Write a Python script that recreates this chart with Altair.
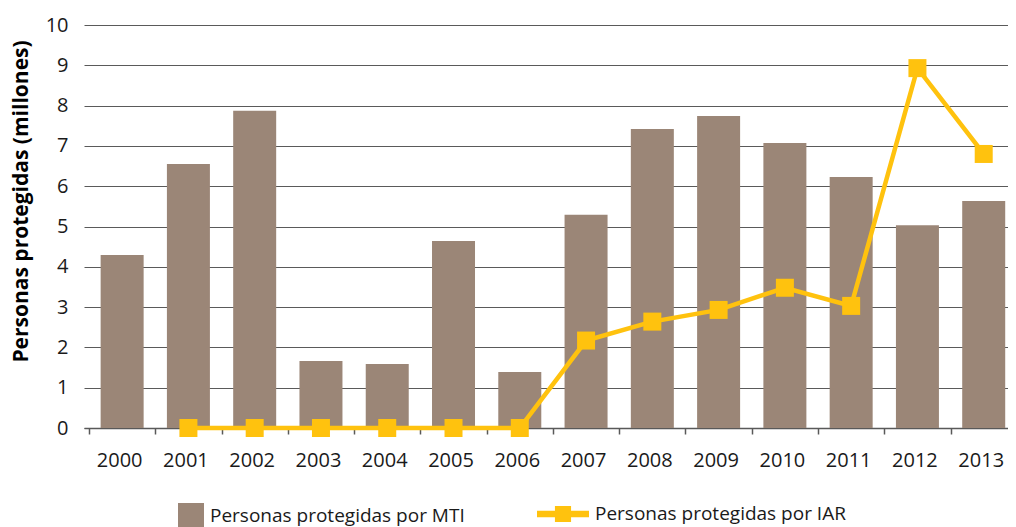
import altair as alt
import pandas as pd

years = list(range(2000, 2014))
mti = [4.29, 6.55, 7.87, 1.66, 1.59, 4.64, 1.39, 5.29, 7.42, 7.74, 7.07, 6.23, 5.03, 5.63]
iar = [None, 0, 0, 0, 0, 0, 0, 2.17, 2.64, 2.93, 3.48, 3.03, 8.93, 6.80]
serie_mti = "Personas protegidas por MTI"
serie_iar = "Personas protegidas por IAR"
y_title = "Personas protegidas (millones)"

BROWN = "#9b8677"
YELLOW = "#ffc20e"
FONT = "Open Sans"

PLOT_W = 924
STEP = 67  # pixels per year, as in the reference
X_DOMAIN = [years[0] - 0.5, years[0] - 0.5 + PLOT_W / STEP]
tick_values = [y - 0.5 for y in years] + [years[-1] + 0.5]

df = pd.DataFrame({"year": years, "mti": mti, "iar": iar})
df["s_mti"] = serie_mti
df["s_iar"] = serie_iar

x_scale = alt.Scale(domain=X_DOMAIN, nice=False, zero=False)

label_axis = alt.Axis(
    title=None, values=years, format="d", labelAngle=0, ticks=False, grid=False,
    domainColor="#595959", domainWidth=1.5, orient="bottom",
    labelFontSize=20, labelColor="#1a1a1a", labelPadding=22, labelFont=FONT,
    labelOffset=-3, labelFlush=False, labelOverlap=False,
)
tick_axis = alt.Axis(
    title=None, values=tick_values, labels=False, ticks=True, tickSize=6,
    tickColor="#595959", tickWidth=1.5, domain=False, grid=False, orient="bottom",
)

y_scale = alt.Scale(domain=[0, 10])
y_axis = alt.Axis(
    values=list(range(11)), title=y_title, grid=True, ticks=False, domain=False,
    gridColor="#5a5a5a", gridWidth=1, labelFontSize=20, labelColor="#1a1a1a",
    labelPadding=16, labelFont=FONT,
    titleFontSize=21, titleFontWeight="bold", titleFont=FONT, titleColor="#000000",
    titleX=-63, titleY=176, titleAngle=270, titleAlign="center", titleBaseline="middle",
)

bars = alt.Chart(df).mark_bar(width=43).encode(
    x=alt.X("year:Q", scale=x_scale, axis=label_axis),
    y=alt.Y("mti:Q", scale=y_scale, axis=y_axis),
    fill=alt.Fill(
        "s_mti:N",
        scale=alt.Scale(range=[BROWN]),
        legend=alt.Legend(
            orient="none", legendX=94, legendY=478, title=None,
            symbolType="square", symbolSize=676, symbolStrokeWidth=0,
            labelFontSize=19, labelFont=FONT, labelColor="#1a1a1a", labelOffset=6,
            labelLimit=500, padding=0,
        ),
    ),
)

line_src = alt.Chart(df).transform_filter("isValid(datum.iar)")

line = line_src.mark_line(color=YELLOW, strokeWidth=4.5).encode(
    x=alt.X("year:Q", scale=x_scale, axis=tick_axis),
    y=alt.Y("iar:Q", scale=y_scale),
)

points = line_src.mark_point(shape="square", filled=True, size=324, opacity=1).encode(
    x=alt.X("year:Q", scale=x_scale, axis=None),
    y=alt.Y("iar:Q", scale=y_scale),
    fill=alt.Fill(
        "s_iar:N",
        scale=alt.Scale(range=[YELLOW]),
        legend=alt.Legend(
            orient="none", legendX=453, legendY=463, title=None,
            symbolType="M-1,-0.125H1V0.125H-1Z M-0.31,-0.31H0.31V0.31H-0.31Z",
            symbolSize=2704, symbolStrokeWidth=0, symbolOpacity=1,
            labelFontSize=19, labelFont=FONT, labelColor="#1a1a1a", labelOffset=6,
            labelLimit=500, padding=0,
        ),
    ),
)

chart = (
    alt.layer(bars, line, points)
    .resolve_scale(fill="independent")
    .resolve_axis(x="independent")
    .properties(
        width=PLOT_W, height=403, autosize="none",
        padding={"left": 76, "top": 17, "right": 0, "bottom": 99},
    )
    .configure(font=FONT, view=alt.ViewConfig(stroke=None))
)

chart.save("out.html", embed_options={"renderer": "svg", "actions": False})
